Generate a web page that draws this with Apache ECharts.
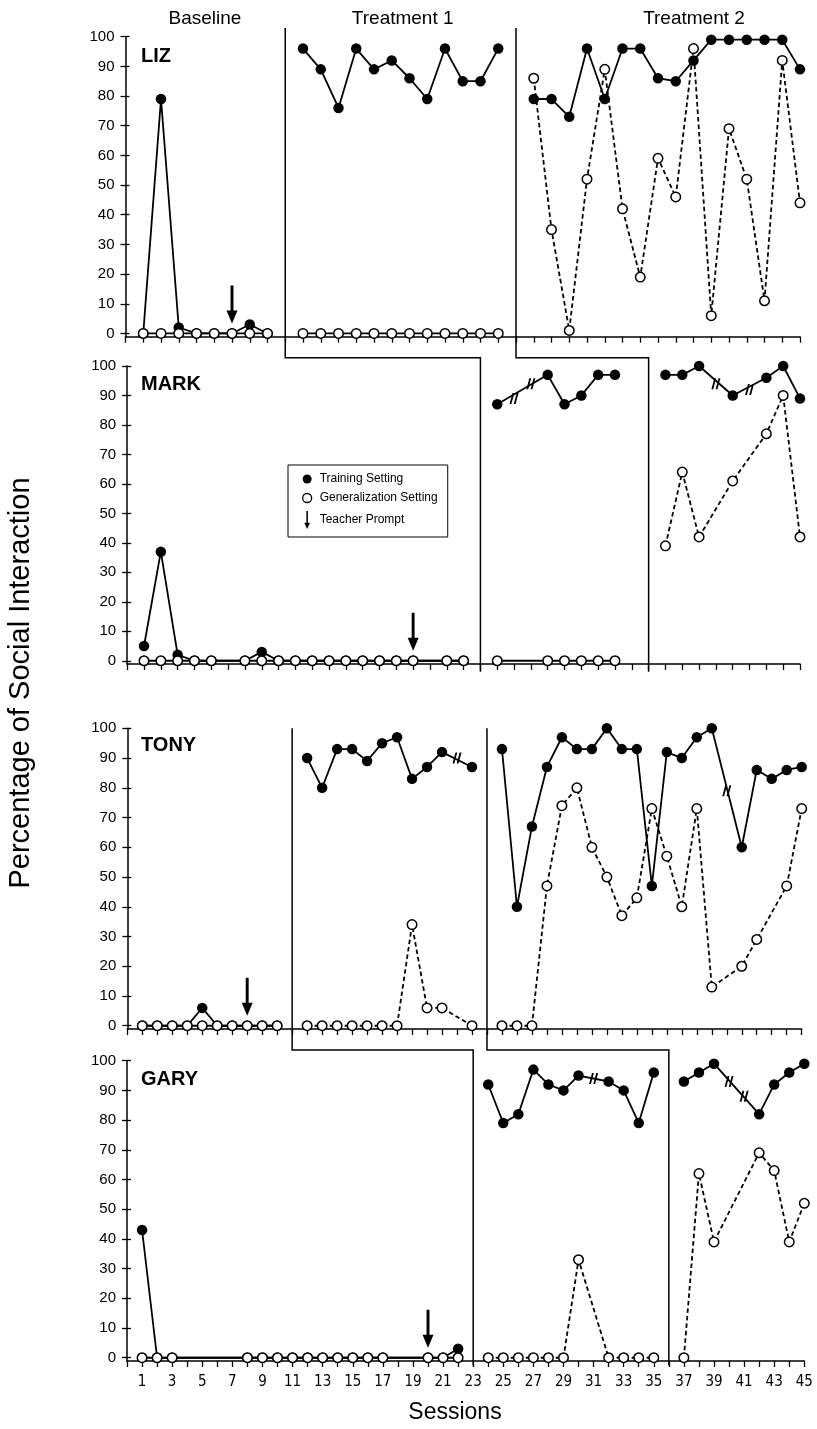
<!DOCTYPE html>
<html><head><meta charset="utf-8">
<script src="https://cdn.jsdelivr.net/npm/echarts@6/dist/echarts.min.js"></script>
<style>html,body{margin:0;padding:0;background:#fff}#c{width:817px;height:1429px}</style>
</head><body><div id="c"></div>
<script>
// ================= DATA =================
const PANEL_NAMES = ['LIZ', 'MARK', 'TONY', 'GARY'];
const PHASE_TITLES = ['Baseline', 'Treatment 1', 'Treatment 2'];
const SESSION_COUNTS = [38, 40, 45, 45];          // positions on each panel's session axis
const PHASE_STARTS = [[1, 10, 23], [1, 22, 32], [1, 12, 25], [1, 24, 37]];

const LIZ_TRAIN_BASE = [0, 79, 2, 0, 0, 0, 3, 0];
const LIZ_GEN_BASE   = [0, 0, 0, 0, 0, 0, 0, 0];
const LIZ_TRAIN_T1   = [96, 89, 76, 96, 89, 92, 86, 79, 96, 85, 85, 96];
const LIZ_GEN_T1     = [0, 0, 0, 0, 0, 0, 0, 0, 0, 0, 0, 0];
const LIZ_TRAIN_T2   = [79, 79, 73, 96, 79, 96, 96, 86, 85, 92, 99, 99, 99, 99, 99, 89];
const LIZ_GEN_T2     = [86, 35, 1, 52, 89, 42, 19, 59, 46, 96, 6, 69, 52, 11, 92, 44];

const MARK_TRAIN_BASE = [5, 37, 2, 0, 0, null, 0, 3, 0, 0, 0, 0, 0, 0, 0, 0, 0, null, 0, 0];
const MARK_GEN_BASE   = [0, 0, 0, 0, 0, null, 0, 0, 0, 0, 0, 0, 0, 0, 0, 0, 0, null, 0, 0];
const MARK_TRAIN_T1   = [87, null, null, 97, 87, 90, 97, 97];
const MARK_GEN_T1     = [0, null, null, 0, 0, 0, 0, 0];
const MARK_TRAIN_T2   = [97, 97, 100, null, 90, null, 96, 100, 89];
const MARK_GEN_T2     = [39, 64, 42, null, 61, null, 77, 90, 42];

const TONY_TRAIN_BASE = [0, 0, 0, 0, 6, 0, 0, 0, 0, 0];
const TONY_GEN_BASE   = [0, 0, 0, 0, 0, 0, 0, 0, 0, 0];
const TONY_TRAIN_T1   = [90, 80, 93, 93, 89, 95, 97, 83, 87, 92, null, 87];
const TONY_GEN_T1     = [0, 0, 0, 0, 0, 0, 0, 34, 6, 6, null, 0];
const TONY_TRAIN_T2   = [93, 40, 67, 87, 97, 93, 93, 100, 93, 93, 47, 92, 90, 97, 100, null, 60, 86, 83, 86, 87];
const TONY_GEN_T2     = [0, 0, 0, 47, 74, 80, 60, 50, 37, 43, 73, 57, 40, 73, 13, null, 20, 29, null, 47, 73];

const GARY_TRAIN_BASE = [43, 0, 0, null, null, null, null, 0, 0, 0, 0, 0, 0, 0, 0, 0, 0, null, null, 0, 0, 3];
const GARY_GEN_BASE   = [0, 0, 0, null, null, null, null, 0, 0, 0, 0, 0, 0, 0, 0, 0, 0, null, null, 0, 0, 0];
const GARY_TRAIN_T1   = [92, 79, 82, 97, 92, 90, 95, null, 93, 90, 79, 96];
const GARY_GEN_T1     = [0, 0, 0, 0, 0, 0, 33, null, 0, 0, 0, 0];
const GARY_TRAIN_T2   = [93, 96, 99, null, null, 82, 92, 96, 99];
const GARY_GEN_T2     = [0, 62, 39, null, null, 69, 63, 39, 52];

const PROMPT_SESSIONS = [6, 17, 8, 20];
const LIZ_BREAKS  = [];
const MARK_BREAKS = [[23, 89], [24, 94], [35, 94], [37, 92]];
const TONY_BREAKS = [[22, 90], [40, 79]];
const GARY_BREAKS = [[31, 94], [40, 93], [41, 88]];

const Y_TICKS = [0, 10, 20, 30, 40, 50, 60, 70, 80, 90, 100];
// phase change lines: [upper panel, position, lower panel, position]
const PHASE_CHANGES = [[0, 9, 1, 21], [0, 22, 1, 31], [2, 11, 3, 23], [2, 24, 3, 36]];

const TRAIN = [
  [LIZ_TRAIN_BASE, LIZ_TRAIN_T1, LIZ_TRAIN_T2],
  [MARK_TRAIN_BASE, MARK_TRAIN_T1, MARK_TRAIN_T2],
  [TONY_TRAIN_BASE, TONY_TRAIN_T1, TONY_TRAIN_T2],
  [GARY_TRAIN_BASE, GARY_TRAIN_T1, GARY_TRAIN_T2]
];
const GEN = [
  [LIZ_GEN_BASE, LIZ_GEN_T1, LIZ_GEN_T2],
  [MARK_GEN_BASE, MARK_GEN_T1, MARK_GEN_T2],
  [TONY_GEN_BASE, TONY_GEN_T1, TONY_GEN_T2],
  [GARY_GEN_BASE, GARY_GEN_T1, GARY_GEN_T2]
];
const BREAKS = [LIZ_BREAKS, MARK_BREAKS, TONY_BREAKS, GARY_BREAKS];

// ================= LAYOUT / STYLE =================
const GRIDS = [
  {left: 125.5, top: 36.7, width: 674.5, height: 300},
  {left: 127.2, top: 366, width: 672.8, height: 298},
  {left: 127.3, top: 728.3, width: 674.4, height: 300.7},
  {left: 127, top: 1060.7, width: 677.3, height: 300.3}
];
const Y_MIN = -1.1;
const FONT = "'Liberation Sans', Arial, Helvetica, sans-serif";
const NARROW = "'Liberation Sans Narrow', 'Arial Narrow', 'DejaVu Sans Condensed', sans-serif";
const ARROW = 'path://M4.4,0 L7.6,0 L7.6,25 L12,25 L6,38 L0,25 L4.4,25 Z';
const BREAK = 'path://M3.5,0 L5.7,0 L2.2,12 L0,12 Z M8.5,0 L10.7,0 L7.2,12 L5,12 Z';
const INK = '#000';

const chart = echarts.init(document.getElementById('c'), null, {renderer: 'canvas'});

const grid = GRIDS.map(g => Object.assign({containLabel: false}, g));
const xAxis = SESSION_COUNTS.map((n, p) => ({
  type: 'value', gridIndex: p, min: 0, max: n, interval: 1,
  axisLine: {show: true, onZero: false, lineStyle: {color: INK, width: 1.5}},
  axisTick: {show: true, length: 6, lineStyle: {color: INK, width: 1.3}},
  splitLine: {show: false},
  axisLabel: {
    show: p === 3, margin: 14, color: INK, fontSize: 15, fontFamily: NARROW,
    formatter: v => (v % 2 === 1 ? String(v) : '')
  }
}));
const yAxis = [];
GRIDS.forEach((g, p) => {
  yAxis.push({
    type: 'value', gridIndex: p, min: Y_MIN, max: 100,
    axisLine: {show: true, onZero: false, lineStyle: {color: INK, width: 1.5}},
    axisTick: {show: true, length: 5, customValues: Y_TICKS, lineStyle: {color: INK, width: 1.3}},
    axisLabel: {show: true, customValues: Y_TICKS, margin: 11, color: INK, fontSize: 15, fontFamily: FONT},
    splitLine: {show: false}
  });
  yAxis.push({
    type: 'value', gridIndex: p, min: Y_MIN, max: 100, position: 'left',
    axisLine: {show: false, onZero: false},
    axisTick: {show: true, inside: true, length: 4, customValues: Y_TICKS, lineStyle: {color: INK, width: 1.3}},
    axisLabel: {show: false},
    splitLine: {show: false}
  });
});

const toPts = (arr, start) => arr.map((v, i) => (v == null ? null : [start + i, v])).filter(Boolean);

const series = [];
for (let p = 0; p < 4; p++) {
  for (let k = 0; k < 3; k++) {
    const start = PHASE_STARTS[p][k];
    series.push({
      type: 'line', name: 'Training Setting', xAxisIndex: p, yAxisIndex: 2 * p,
      data: toPts(TRAIN[p][k], start), symbol: 'circle', symbolSize: 10.5, showSymbol: true,
      clip: false, z: 2, animation: false,
      itemStyle: {color: INK, opacity: 1},
      lineStyle: {color: INK, width: 1.8}
    });
    const gen = GEN[p][k];
    const dashed = k > 0 && gen.some(v => v != null && v > 0);
    series.push({
      type: 'line', name: 'Generalization Setting', xAxisIndex: p, yAxisIndex: 2 * p,
      data: toPts(gen, start), symbol: 'circle', symbolSize: 9.5, showSymbol: true,
      clip: false, z: 3, animation: false,
      itemStyle: {color: '#fff', borderColor: INK, borderWidth: 1.5, opacity: 1},
      lineStyle: {color: INK, width: 1.8, type: dashed ? [4.5, 3] : 'solid'}
    });
  }
  series.push({
    type: 'scatter', name: 'Teacher Prompt', xAxisIndex: p, yAxisIndex: 2 * p,
    data: [[PROMPT_SESSIONS[p], 0]], symbol: ARROW, symbolSize: [11, 38], symbolOffset: [0, -29],
    itemStyle: {color: INK, opacity: 1}, z: 5, clip: false, animation: false
  });
  if (BREAKS[p].length) {
    series.push({
      type: 'scatter', name: 'break', xAxisIndex: p, yAxisIndex: 2 * p,
      data: BREAKS[p], symbol: BREAK, symbolSize: [9, 11],
      itemStyle: {color: INK, opacity: 1}, z: 5, clip: false, animation: false
    });
  }
}

const texts = [];
const titleX = [205, 402.7, 694];
PHASE_TITLES.forEach((t, i) => texts.push({
  type: 'text', x: titleX[i], y: 19,
  style: {text: t, fontSize: 19, fontFamily: FONT, fill: INK, align: 'center', verticalAlign: 'middle'}
}));
const nameY = [56.3, 384, 745, 1079];
PANEL_NAMES.forEach((t, i) => texts.push({
  type: 'text', x: 141, y: nameY[i],
  style: {text: t, fontSize: 20, fontWeight: 'bold', fontFamily: FONT, fill: INK, align: 'left', verticalAlign: 'middle'}
}));
texts.push({
  type: 'text', x: 455, y: 1413,
  style: {text: 'Sessions', fontSize: 23, fontFamily: FONT, fill: INK, align: 'center', verticalAlign: 'middle'}
});
texts.push({
  type: 'text', x: 21, y: 683, rotation: Math.PI / 2,
  style: {text: 'Percentage of Social Interaction', fontSize: 29, fontFamily: FONT, fill: INK, align: 'center', verticalAlign: 'middle'}
});

chart.setOption({
  backgroundColor: '#fff',
  animation: false,
  grid, xAxis, yAxis, series,
  legend: {
    selectedMode: false, orient: 'vertical', left: 288, top: 465,
    padding: [8, 10, 8, 14], itemGap: 7, itemWidth: 9, itemHeight: 18,
    borderColor: INK, borderWidth: 1, backgroundColor: '#fff', borderRadius: 0,
    textStyle: {fontSize: 12, fontFamily: FONT, color: INK, padding: [0, 0, 0, 3]},
    data: [
      {name: 'Training Setting', icon: 'circle', itemStyle: {color: INK, borderWidth: 0, opacity: 1}},
      {name: 'Generalization Setting', icon: 'circle', itemStyle: {color: '#fff', borderColor: INK, borderWidth: 1.3, opacity: 1}},
      {name: 'Teacher Prompt', icon: ARROW, itemStyle: {color: INK, borderWidth: 0, opacity: 1}}
    ]
  },
  graphic: texts
});

// phase-change lines placed through the axes' own scales
const TOP_EXT = [102.9, 0, 100, 0];   // value where upper segment starts (per upper panel)
const STEP_VAL = [0, 102.8, 0, 103.6]; // value of the horizontal step (per lower panel)
const BOTTOM_VAL = [0, -3.7, 0, -2.6];
const lines = PHASE_CHANGES.map(([up, upPos, lo, loPos]) => {
  const a = chart.convertToPixel({xAxisIndex: up, yAxisIndex: 2 * up}, [upPos, TOP_EXT[up]]);
  const s = chart.convertToPixel({xAxisIndex: lo, yAxisIndex: 2 * lo}, [loPos, STEP_VAL[lo]]);
  const b = chart.convertToPixel({xAxisIndex: lo, yAxisIndex: 2 * lo}, [loPos, BOTTOM_VAL[lo]]);
  return {
    type: 'polyline', z: 1,
    shape: {points: [[a[0], a[1]], [a[0], s[1]], [s[0], s[1]], [b[0], b[1]]]},
    style: {stroke: INK, lineWidth: 1.5, fill: null}
  };
});
chart.setOption({graphic: texts.concat(lines)});
</script></body></html>
